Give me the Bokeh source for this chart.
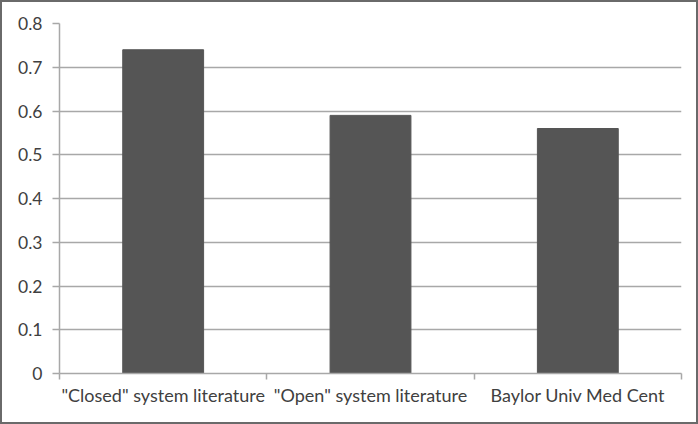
from bokeh.plotting import figure
from bokeh.models import Range1d, FixedTicker, ColumnDataSource
from bokeh.embed import file_html
from bokeh.resources import INLINE

categories = ['"Closed" system literature', '"Open" system literature', 'Baylor Univ Med Cent']
values = [0.74, 0.59, 0.56]
y_ticks = [0, 0.1, 0.2, 0.3, 0.4, 0.5, 0.6, 0.7, 0.8]

xs = [i + 0.5 for i in range(len(categories))]
src = ColumnDataSource(dict(x=xs, top=values))

p = figure(width=698, height=424, output_backend="svg", toolbar_location=None,
           x_range=Range1d(0, len(categories)), y_range=Range1d(0, 0.8),
           min_border_left=57, min_border_right=19, min_border_top=21, min_border_bottom=53)
p.outline_line_color = None
p.background_fill_color = "white"
p.border_fill_color = "white"
p.styles = {"border": "2px solid #6a6a6a", "box-sizing": "border-box"}

p.vbar(x="x", top="top", width=0.39, bottom=0, source=src, fill_color="#555555", line_color="#555555")

grid_col = "#a8a8a8"
p.xgrid.grid_line_color = None
p.ygrid.grid_line_color = grid_col
p.ygrid.grid_line_width = 1.5
p.ygrid.ticker = FixedTicker(ticks=y_ticks)

ya = p.yaxis[0]
ya.ticker = FixedTicker(ticks=y_ticks)
ya.major_label_overrides = {0: "0"}
ya.axis_line_color = grid_col
ya.axis_line_width = 1.5
ya.major_tick_line_color = grid_col
ya.major_tick_line_width = 1.5
ya.major_tick_out = 7
ya.major_tick_in = 0
ya.minor_tick_line_color = None
ya.major_label_standoff = 10
ya.major_label_text_font = "Lato"
ya.major_label_text_font_size = "17.5px"
ya.major_label_text_color = "#404040"

xa = p.xaxis[0]
xa.ticker = FixedTicker(ticks=xs, minor_ticks=list(range(len(categories) + 1)))
xa.major_label_overrides = {x: c for x, c in zip(xs, categories)}
xa.axis_line_color = grid_col
xa.axis_line_width = 1.5
xa.major_tick_line_color = None
xa.major_tick_out = 6
xa.major_tick_in = 0
xa.minor_tick_line_color = grid_col
xa.minor_tick_line_width = 1.5
xa.minor_tick_out = 6
xa.minor_tick_in = 0
xa.major_label_standoff = 4
xa.major_label_text_font = "Lato"
xa.major_label_text_font_size = "18px"
xa.major_label_text_color = "#404040"

open("out.html", "w").write(file_html(p, INLINE))
